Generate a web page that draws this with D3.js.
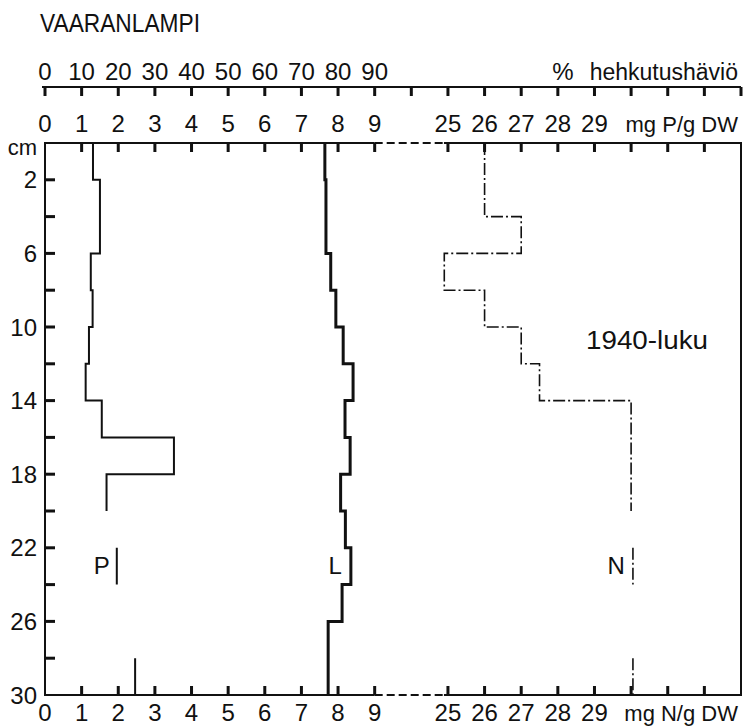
<!DOCTYPE html>
<html>
<head>
<meta charset="utf-8">
<script src="https://cdn.jsdelivr.net/npm/d3@7"></script>
<style>
  html, body { margin: 0; padding: 0; background: #fff; }
  svg { display: block; }
  text { font-family: "Liberation Sans", Arial, sans-serif; fill: #111; }
</style>
</head>
<body>
<svg id="chart" width="745" height="728"></svg>
<script>
// ---- data ----
const title = "VAARANLAMPI";
const periodLabel = "1940-luku";
// sample interval tops (cm); each sample covers 2 cm
const depthTops = [0, 2, 4, 6, 8, 10, 12, 14, 16, 18, 20, 22, 24, 26, 28];
const sampleThickness = 2;
// P (mg P/g DW)
const pValues = [1.31, 1.50, 1.50, 1.25, 1.30, 1.20, 1.11, 1.55, 3.52, 1.68, null, 1.96, null, null, 2.46];
// L loss on ignition (%)
const lValues = [76.4, 76.7, 76.7, 78.0, 79.4, 81.4, 84.1, 81.9, 83.3, 80.7, 82.0, 83.5, 81.1, 77.3, 77.3];
// N (mg N/g DW)
const nValues = [26.0, 26.0, 27.0, 24.9, 26.0, 27.0, 27.5, 30.0, 30.0, 30.0, null, 30.05, null, null, 30.05];

// tick definitions
const pctTicks = [0,10,20,30,40,50,60,70,80,90,100,110,120,130,140,150,160,170,180,190];
const pctLabels = [0,10,20,30,40,50,60,70,80,90];
const lowTicks = [1,2,3,4,5,6,7,8,9];
const lowLabels = [0,1,2,3,4,5,6,7,8,9];
const highTicks = [25,26,27,28,29,30,31,32];
const highLabels = [25,26,27,28,29];
const depthTicks = [2,4,6,8,10,12,14,16,18,20,22,24,26,28];
const depthLabels = [2,6,10,14,18,22,26,30];

// ---- layout ----
const svg = d3.select("#chart");
const plotLeft = 45, plotRight = 741, plotTop = 143, plotBottom = 695;
const FS = 24;
const INK = "#111";

const xP = d3.scaleLinear().domain([0, 19]).range([plotLeft, plotRight]);      // P / lower scale
const xL = d3.scaleLinear().domain([0, 190]).range([plotLeft, plotRight]);     // % scale
const xN = d3.scaleLinear().domain([14, 33]).range([plotLeft, plotRight]);     // N scale (right part)
const y = d3.scaleLinear().domain([0, 30]).range([plotTop, plotBottom]);

function hline(x1, x2, yy, w, dash) {
  const l = svg.append("line").attr("x1", x1).attr("x2", x2).attr("y1", yy).attr("y2", yy)
    .attr("stroke", INK).attr("stroke-width", w || 2);
  if (dash) l.attr("stroke-dasharray", dash);
  return l;
}
function vTicks(values, scale, yy, len) {
  const g = svg.append("g").attr("class", "ticks");
  values.forEach(d => {
    g.append("rect")
      .attr("x", scale(d) - 1.5).attr("width", 3)
      .attr("y", Math.min(yy, yy + len)).attr("height", Math.abs(len))
      .attr("fill", INK);
  });
}
function vLabels(values, scale, yy) {
  svg.append("g").selectAll("text").data(values).join("text")
    .attr("x", d => scale(d)).attr("y", yy).attr("text-anchor", "middle")
    .attr("font-size", FS).text(d => d);
}

// title
svg.append("text").attr("x", 40).attr("y", 32).attr("font-size", 26)
  .attr("textLength", 160).attr("lengthAdjust", "spacingAndGlyphs").text(title);

// ---- % axis ----
const pctY = 87;
hline(42, plotRight, pctY);
vTicks(pctTicks, xL, pctY, 9);
vLabels(pctLabels, xL, 80);
svg.append("text").attr("x", 563).attr("y", 80).attr("text-anchor", "middle").attr("font-size", FS).text("%");
svg.append("text").attr("x", 738).attr("y", 80).attr("text-anchor", "end").attr("font-size", 23).text("hehkutushäviö");

// ---- frame ----
function brokenLine(yy) {
  hline(plotLeft - 1, xP(9), yy);
  hline(xP(9), xN(25) - 4, yy, 2, "8,4");
  hline(xN(25) - 4, plotRight + 1, yy);
}
brokenLine(plotTop);
brokenLine(plotBottom);
svg.append("line").attr("x1", plotLeft).attr("x2", plotLeft).attr("y1", plotTop).attr("y2", plotBottom)
  .attr("stroke", INK).attr("stroke-width", 2);
svg.append("line").attr("x1", plotRight).attr("x2", plotRight).attr("y1", plotTop).attr("y2", plotBottom)
  .attr("stroke", INK).attr("stroke-width", 2);

// top frame axis (P)
vTicks(lowTicks, xP, plotTop, 9);
vTicks(highTicks, xN, plotTop, 9);
vLabels(lowLabels, xP, 132);
vLabels(highLabels, xN, 132);
svg.append("text").attr("x", 738).attr("y", 132).attr("text-anchor", "end").attr("font-size", 22).text("mg P/g DW");

// bottom frame axis (N)
vTicks(lowTicks, xP, plotBottom, -9);
vTicks(highTicks, xN, plotBottom, -9);
vLabels(lowLabels, xP, 721);
vLabels(highLabels, xN, 721);
svg.append("text").attr("x", 738).attr("y", 721).attr("text-anchor", "end").attr("font-size", 22).text("mg N/g DW");

// depth axis
const gDepth = svg.append("g").attr("class", "ticks");
depthTicks.forEach(d => {
  gDepth.append("rect").attr("x", plotLeft).attr("width", 10)
    .attr("y", y(d) - 1.5).attr("height", 3).attr("fill", INK);
});
svg.append("g").selectAll("text").data(depthLabels).join("text")
  .attr("x", 37).attr("y", d => y(d)).attr("dy", "0.36em").attr("text-anchor", "end")
  .attr("font-size", FS).text(d => d);
svg.append("text").attr("x", 37).attr("y", 155).attr("text-anchor", "end").attr("font-size", 22).text("cm");

// ---- step profiles ----
function stepPoints(values) {
  const pts = [];
  values.forEach((v, i) => {
    pts.push({ v, d: depthTops[i] });
    pts.push({ v, d: depthTops[i] + sampleThickness });
  });
  return pts;
}
function drawProfile(values, xs, width, dash) {
  const line = d3.line().defined(d => d.v != null).x(d => xs(d.v)).y(d => y(d.d));
  const p = svg.append("path").attr("d", line(stepPoints(values)))
    .attr("fill", "none").attr("stroke", INK).attr("stroke-width", width)
    .attr("stroke-linejoin", "miter").attr("stroke-linecap", "butt");
  if (dash) p.attr("stroke-dasharray", dash);
}
drawProfile(pValues, xP, 2);
drawProfile(lValues, xL, 3);
drawProfile(nValues, xN, 1.6, "12,3,2,3");

// series labels beside 22-24 cm samples
const labelIdx = 11;
svg.append("text").attr("x", xP(pValues[labelIdx]) - 7).attr("y", y(23) + 8)
  .attr("text-anchor", "end").attr("font-size", FS).text("P");
svg.append("text").attr("x", xL(lValues[labelIdx]) - 9).attr("y", y(23) + 8)
  .attr("text-anchor", "end").attr("font-size", FS).text("L");
svg.append("text").attr("x", xN(nValues[labelIdx]) - 8).attr("y", y(23) + 8)
  .attr("text-anchor", "end").attr("font-size", FS).text("N");

// period label
svg.append("text").attr("x", 586).attr("y", 349).attr("font-size", 25)
  .attr("textLength", 122).attr("lengthAdjust", "spacingAndGlyphs").text(periodLabel);
</script>
</body>
</html>
